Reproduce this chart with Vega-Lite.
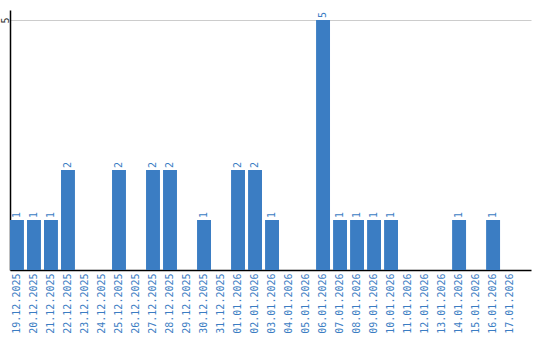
{
  "$schema": "https://vega.github.io/schema/vega-lite/v6.json",
  "width": 521,
  "height": 260,
  "autosize": "none",
  "padding": {"left": 10, "top": 10, "right": 9, "bottom": 70},
  "background": "white",
  "data": {
    "values": [
      {"d": "19.12.2025", "v": 1}, {"d": "20.12.2025", "v": 1}, {"d": "21.12.2025", "v": 1},
      {"d": "22.12.2025", "v": 2}, {"d": "23.12.2025", "v": 0}, {"d": "24.12.2025", "v": 0},
      {"d": "25.12.2025", "v": 2}, {"d": "26.12.2025", "v": 0}, {"d": "27.12.2025", "v": 2},
      {"d": "28.12.2025", "v": 2}, {"d": "29.12.2025", "v": 0}, {"d": "30.12.2025", "v": 1},
      {"d": "31.12.2025", "v": 0}, {"d": "01.01.2026", "v": 2}, {"d": "02.01.2026", "v": 2},
      {"d": "03.01.2026", "v": 1}, {"d": "04.01.2026", "v": 0}, {"d": "05.01.2026", "v": 0},
      {"d": "06.01.2026", "v": 5}, {"d": "07.01.2026", "v": 1}, {"d": "08.01.2026", "v": 1},
      {"d": "09.01.2026", "v": 1}, {"d": "10.01.2026", "v": 1}, {"d": "11.01.2026", "v": 0},
      {"d": "12.01.2026", "v": 0}, {"d": "13.01.2026", "v": 0}, {"d": "14.01.2026", "v": 1},
      {"d": "15.01.2026", "v": 0}, {"d": "16.01.2026", "v": 1}, {"d": "17.01.2026", "v": 0}
    ]
  },
  "encoding": {
    "x": {
      "field": "d", "type": "nominal", "sort": null, "title": null,
      "scale": {"paddingInner": 0.18, "paddingOuter": 0.41, "align": 0},
      "axis": {
        "labelAngle": 270, "labelAlign": "right", "labelBaseline": "middle",
        "labelFont": "DejaVu Sans Mono", "labelFontSize": 10, "labelColor": "#3b7dc3",
        "ticks": false, "labelPadding": 3, "domainColor": "#000000", "domainWidth": 1.5,
        "labelOverlap": false
      }
    },
    "y": {
      "field": "v", "type": "quantitative", "title": null,
      "scale": {"domain": [0, 5.2], "nice": false, "zero": true},
      "axis": {
        "values": [5], "grid": true, "gridColor": "#cccccc", "ticks": false,
        "labelAngle": 270, "labelAlign": "center", "labelBaseline": "alphabetic",
        "labelFont": "DejaVu Sans Mono", "labelFontSize": 10, "labelColor": "#333333",
        "labelPadding": 2, "domainColor": "#000000", "domainWidth": 1.5
      }
    }
  },
  "layer": [
    {"mark": {"type": "bar", "color": "#3b7dc3"}},
    {
      "transform": [{"filter": "datum.v > 0"}],
      "mark": {"type": "text", "angle": 270, "align": "left", "baseline": "middle", "dx": 2,
               "font": "DejaVu Sans Mono", "fontSize": 10, "color": "#3b7dc3"},
      "encoding": {"text": {"field": "v", "type": "quantitative"}}
    }
  ],
  "config": {"view": {"stroke": null}}
}
